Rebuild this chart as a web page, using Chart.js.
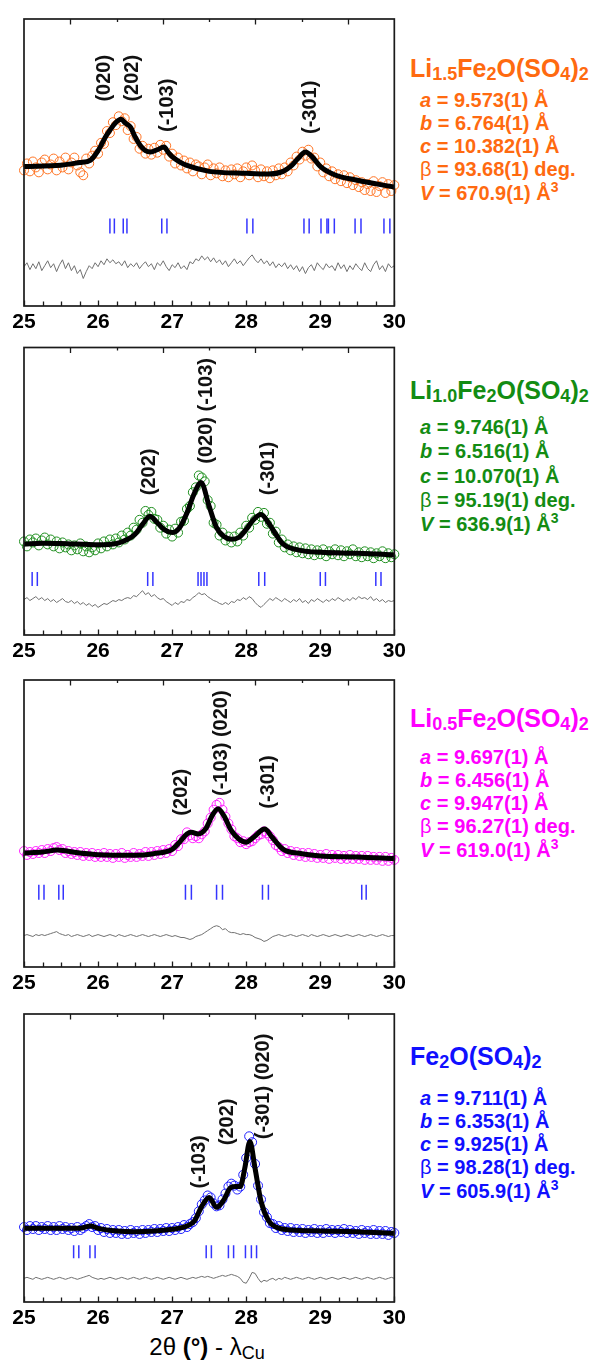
<!DOCTYPE html>
<html>
<head>
<meta charset="utf-8">
<title>Rietveld fits 25-30 deg</title>
<script src="https://cdn.jsdelivr.net/npm/chart.js@4.4.1/dist/chart.umd.min.js"></script>
<style>
  body { margin: 0; background: #fff; }
  #page { position: relative; width: 597px; height: 1362px; overflow: hidden; font-family: "Liberation Sans", Arial, sans-serif; }
  #page canvas { position: absolute; left: 0; }
  .phase { position: absolute; left: 410px; font-size: 25px; line-height: 30px; font-weight: bold; white-space: nowrap; }
  .phase sub { font-size: 18px; line-height: 0; vertical-align: -3px; }
  .params { position: absolute; left: 420px; font-size: 20px; font-weight: bold; white-space: nowrap; }
  .params sup { font-size: 14px; line-height: 0; vertical-align: 8px; }
  .params .beta { font-weight: normal; }
  #xtitle { position: absolute; left: 0; width: 414px; top: 1333px; text-align: center; font-size: 24px; line-height: 28px; }
  #xtitle sub { font-size: 18px; line-height: 0; vertical-align: -4px; }
</style>
</head>
<body>
<div id="page">
  <canvas id="c0" width="410" height="326"></canvas>
  <canvas id="c1" width="410" height="326"></canvas>
  <canvas id="c2" width="410" height="326"></canvas>
  <canvas id="c3" width="410" height="326"></canvas>
  <div id="xtitle">2θ <b>(°)</b> - λ<sub>Cu</sub></div>
</div>
<script>
// Scan grid (2theta, deg) and axis ticks
const scanStart = 25;
const scanStep = 0.04;
const xTickLabels = [25, 26, 27, 28, 29, 30];
const minorStep = 0.25;
const topTicks = [25.625, 26.25, 26.875, 27.5, 28.125, 28.75, 29.375];

// Li1.5Fe2O(SO4)2
const obs1 = [
  138,145,137,147,141,136,146,149,139,144,
  150,138,147,141,151,139,146,151,143,136,
  133,150,145,153,158,155,166,165,178,176,
  187,184,193,188,191,179,183,170,172,160,
  163,155,160,154,161,156,164,159,163,152,
  155,145,151,143,148,140,146,137,144,142,
  134,141,144,133,140,135,141,132,138,131,
  139,134,140,131,137,141,133,143,138,131,
  139,132,137,130,138,133,140,134,141,137,
  146,143,152,149,157,153,159,150,151,142,
  146,136,140,132,137,129,134,127,133,125,
  131,123,128,121,126,118,124,117,127,116,
  122,126,115,124,117,123];
const diff1 = [
  40,44,37,43,38,45,36,41,46,39,
  43,35,42,47,38,44,36,41,33,37,
  28,35,41,38,44,40,46,42,48,44,
  47,43,45,41,46,39,43,40,44,38,
  42,45,40,43,37,44,41,46,40,36,
  42,39,44,38,41,37,45,43,48,46,
  51,47,50,45,49,44,47,42,46,40,
  44,48,43,46,41,45,49,52,47,44,
  48,43,46,41,45,39,43,40,44,38,
  42,37,41,35,40,33,39,42,36,44,
  40,37,43,39,41,36,44,38,42,35,
  41,37,43,39,36,44,38,35,42,46,
  37,41,35,43,39,41];
const calcX1 = [25.0,25.5,25.75,25.9,26.0,26.1,26.17,26.23,26.31,26.37,26.44,26.5,26.57,26.64,26.71,26.8,26.89,26.95,27.0,27.1,27.2,27.5,28.0,28.3,28.5,28.6,28.7,28.8,28.9,29.0,29.2,29.5,30.0];
const calcY1 = [142,143.3,146,148.5,158,172,180,186,190,186,181.7,172,163.3,158,156.7,159,161.7,156,152,146.7,143,137,135,134.3,137,142,150,156.7,151,142,133.3,128,121];
const bragg1 = [26.16,26.22,26.34,26.39,26.86,26.93,28.01,28.09,28.78,28.85,29.01,29.09,29.11,29.19,29.47,29.55,29.86,29.94];
const peakText1 = ['(020)', '(202)', '(-103)', '(-301)'];
const peakX1 = [26.08, 26.47, 26.94, 28.87];
const peakY1 = [208, 208, 177, 175];

// Li1.0Fe2O(SO4)2
const obs2 = [
  95,90,97,94,98,91,96,99,92,97,
  90,95,88,94,89,92,86,91,87,93,
  85,90,84,89,86,93,88,95,90,97,
  92,98,94,101,97,104,101,109,107,117,
  114,126,122,125,118,117,109,111,103,107,
  100,108,104,115,116,128,131,145,150,162,
  160,156,137,131,114,112,101,104,96,100,
  94,100,95,104,101,111,109,119,117,125,
  120,124,113,114,103,105,94,97,89,92,
  86,90,84,89,83,88,82,87,81,86,
  82,87,80,85,82,87,81,86,80,85,
  82,87,80,84,79,85,80,84,78,83,
  80,85,78,83,79,82];
const diff2 = [
  36,38,35,37,39,36,38,35,37,34,
  36,33,35,37,34,33,35,32,34,31,
  33,30,32,29,31,28,30,32,31,33,
  35,34,36,35,37,38,37,40,39,42,
  45,41,43,39,41,38,36,37,34,32,
  30,33,31,34,33,36,35,38,40,43,
  41,42,39,37,35,34,32,31,33,31,
  34,33,36,35,38,36,39,37,33,30,
  28,31,34,37,35,38,36,34,37,35,
  33,36,34,37,33,35,32,36,34,37,
  35,33,36,34,37,35,38,36,34,37,
  35,38,36,39,37,38,36,39,35,37,
  34,36,33,35,34,35];
const calcX2 = [25.0,25.25,25.5,26.0,26.25,26.4,26.5,26.6,26.7,26.8,26.9,27.0,27.1,27.2,27.3,27.39,27.5,27.6,27.7,27.8,27.9,28.0,28.1,28.2,28.3,28.4,28.5,28.75,29.0,29.5,30.0];
const calcY2 = [92.3,93.3,93,91.7,93,97.3,102.3,112.3,120.7,114,106.7,104,109,124,144,155,130.7,109,100,97.3,99,107.3,117.3,122.3,114,102.3,92.3,85.7,84,83,81.3];
const bragg2 = [25.11,25.18,26.67,26.74,27.35,27.39,27.43,27.47,28.17,28.25,29.00,29.07,29.75,29.82];
const peakText2 = ['(202)', '(020) (-103)', '(-301)'];
const peakX2 = [26.70, 27.46, 28.30];
const peakY2 = [142, 174, 142];

// Li0.5Fe2O(SO4)2
const obs3 = [
  118,114,117,115,118,116,119,116,120,118,
  121,122,119,120,116,118,115,117,114,117,
  113,116,113,116,112,115,112,116,112,115,
  111,115,112,116,111,114,112,116,112,115,
  113,117,113,117,114,118,115,119,116,120,
  118,124,123,130,130,137,134,131,133,131,
  135,138,146,152,160,165,167,160,153,146,
  140,133,131,127,128,125,127,128,131,134,
  135,138,136,133,129,124,122,118,120,116,
  118,114,117,113,116,112,116,112,115,111,
  114,111,115,110,114,111,114,110,113,110,
  114,110,113,110,113,109,113,109,112,109,
  112,108,112,108,111,109];
const diff3 = [
  32,33,32,31,33,32,33,32,33,34,
  35,36,34,33,32,33,31,32,33,32,
  31,32,33,31,32,33,32,31,32,33,
  32,31,33,32,31,32,33,32,31,32,
  33,32,31,32,33,32,31,32,33,32,
  31,32,31,30,30,29,28,29,31,32,
  33,35,37,39,41,42,41,38,39,36,
  35,35,34,33,34,33,33,32,30,29,
  28,26,27,29,31,32,33,32,31,32,
  33,32,31,32,33,32,31,33,32,31,
  32,33,32,31,32,33,32,31,32,33,
  32,31,32,33,32,31,32,33,32,31,
  32,33,32,31,32,32];
const calcX3 = [25.0,25.25,25.45,25.75,26.0,26.5,26.75,27.0,27.1,27.2,27.26,27.35,27.45,27.55,27.62,27.7,27.8,27.9,28.0,28.1,28.25,28.35,28.5,28.75,29.0,29.5,30.0];
const calcY3 = [116,117,119,116,114.3,113.7,115.3,119.7,127,135.3,137,135.3,140.3,155.3,161,153.7,138.7,130.3,127,132,140.3,132,119.7,115.3,113,112,110.3];
const bragg3 = [25.20,25.27,25.47,25.53,27.18,27.26,27.60,27.68,28.22,28.30,29.56,29.62];
const peakText3 = ['(202)', '(-103) (020)', '(-301)'];
const peakX3 = [27.13, 27.67, 28.30];
const peakY3 = [154, 174, 161];

// Fe2O(SO4)2
const obs4 = [
  76,73,77,74,77,73,76,74,77,73,
  76,73,77,74,76,73,75,72,76,73,
  75,77,79,76,77,73,75,71,74,70,
  73,70,73,69,72,69,73,70,72,69,
  73,70,73,71,74,71,74,72,75,72,
  75,73,76,74,78,76,79,81,85,92,
  99,103,108,106,100,97,98,104,110,117,
  120,118,114,117,129,146,168,162,140,118,
  104,91,86,80,79,75,77,73,75,72,
  75,71,74,71,74,70,73,71,74,70,
  73,70,74,71,73,70,73,71,74,70,
  73,70,72,69,73,70,72,69,73,69,
  72,69,72,68,71,70];
const diff4 = [
  24,25,24,23,25,24,23,24,25,24,
  23,24,25,24,23,24,25,24,23,24,
  25,26,27,25,24,23,24,23,24,25,
  24,23,24,25,24,23,24,25,24,23,
  24,25,24,23,24,25,24,23,24,25,
  24,23,24,25,24,23,24,25,24,25,
  26,25,26,25,24,25,26,27,26,27,
  28,27,26,24,20,19,24,30,29,24,
  20,22,21,23,24,22,24,23,25,24,
  23,24,25,24,23,24,25,24,23,24,
  25,24,23,24,25,24,23,24,25,24,
  23,24,25,24,23,24,25,24,23,24,
  25,24,23,24,25,24];
const calcX4 = [25.0,25.5,25.75,25.9,26.0,26.25,26.5,27.0,27.2,27.3,27.4,27.5,27.6,27.7,27.78,27.85,27.92,27.98,28.05,28.12,28.2,28.3,28.4,28.6,29.0,29.5,30.0];
const calcY4 = [74.7,74.7,74.7,77,74.7,72,71.3,73.7,77,82,97,106,96,103.7,115.3,117,117,135.3,162.7,135.3,102,82.7,76,73,72,71.3,69.7];
const bragg4 = [25.67,25.74,25.89,25.96,27.46,27.53,27.76,27.83,27.99,28.07,28.14];
const peakText4 = ['(-103)', '(202)', '(-301) (020)'];
const peakX4 = [27.37, 27.75, 28.24];
const peakY4 = [115, 159, 165];

// Cell parameters
const phaseNames = [
  'Li<sub>1.5</sub>Fe<sub>2</sub>O(SO<sub>4</sub>)<sub>2</sub>',
  'Li<sub>1.0</sub>Fe<sub>2</sub>O(SO<sub>4</sub>)<sub>2</sub>',
  'Li<sub>0.5</sub>Fe<sub>2</sub>O(SO<sub>4</sub>)<sub>2</sub>',
  'Fe<sub>2</sub>O(SO<sub>4</sub>)<sub>2</sub>'
];
const cellA = ['9.573(1)', '9.746(1)', '9.697(1)', '9.711(1)'];
const cellB = ['6.764(1)', '6.516(1)', '6.456(1)', '6.353(1)'];
const cellC = ['10.382(1)', '10.070(1)', '9.947(1)', '9.925(1)'];
const cellBeta = ['93.68(1)', '95.19(1)', '96.27(1)', '98.28(1)'];
const cellV = ['670.9(1)', '636.9(1)', '619.0(1)', '605.9(1)'];

// Layout / style (not data)
const boxTop = [14, 343, 675, 1010];
const yMax = 292;
const braggRow = [81.5, 57, 76, 51];
const braggHalf = [7.5, 7, 7.5, 6.5];
const titleTop = [53, 374.5, 703, 1040.5];
const paramTop = [88.8, 415, 745.5, 1086.5];
const paramLine = [23.2, 24.3, 23.3, 23.3];
const colors = ['#ff6a10', '#138c13', '#ff00ff', '#1010ff'];
const markerColors = ['#ff7424', '#1f8f1f', '#ff22ff', '#2020ff'];
const braggColor = '#3535ff';
const font = '"Liberation Sans", Arial, sans-serif';

const panels = [
  { obs: obs1, diff: diff1, calcX: calcX1, calcY: calcY1, bragg: bragg1, text: peakText1, px: peakX1, py: peakY1 },
  { obs: obs2, diff: diff2, calcX: calcX2, calcY: calcY2, bragg: bragg2, text: peakText2, px: peakX2, py: peakY2 },
  { obs: obs3, diff: diff3, calcX: calcX3, calcY: calcY3, bragg: bragg3, text: peakText3, px: peakX3, py: peakY3 },
  { obs: obs4, diff: diff4, calcX: calcX4, calcY: calcY4, bragg: bragg4, text: peakText4, px: peakX4, py: peakY4 }
];

const twoTheta = obs1.map((_, i) => Math.round((scanStart + i * scanStep) * 100) / 100);
const xMin = xTickLabels[0];
const xMax = xTickLabels[xTickLabels.length - 1];

// Frame + inward ticks
const frameTicks = {
  id: 'frameTicks',
  afterDraw(chart) {
    const { ctx, chartArea: a } = chart;
    const x = chart.scales.x;
    ctx.save();
    ctx.strokeStyle = '#1a1a1a';
    ctx.lineWidth = 1.3;
    ctx.beginPath();
    for (let v = xMin; v <= xMax + 1e-6; v += minorStep) {
      const px = Math.round(x.getPixelForValue(v)) + 0.5;
      const len = Math.abs(v - Math.round(v)) < 1e-6 ? 5.5 : 4.5;
      ctx.moveTo(px, a.bottom);
      ctx.lineTo(px, a.bottom - len);
    }
    topTicks.forEach((v, i) => {
      const px = Math.round(x.getPixelForValue(v)) + 0.5;
      const len = i % 2 === 0 ? 5.5 : 3;
      ctx.moveTo(px, a.top);
      ctx.lineTo(px, a.top + len);
    });
    ctx.stroke();
    ctx.lineWidth = 1.7;
    ctx.strokeRect(a.left, a.top, a.right - a.left, a.bottom - a.top);
    ctx.restore();
  }
};

// Rotated hkl labels
function peakLabels(p) {
  return {
    id: 'peakLabels',
    afterDatasetsDraw(chart) {
      const { ctx } = chart;
      const { x, y } = chart.scales;
      ctx.save();
      ctx.fillStyle = '#111';
      ctx.font = 'bold 20px ' + font;
      ctx.textAlign = 'left';
      ctx.textBaseline = 'middle';
      p.text.forEach((t, i) => {
        ctx.save();
        ctx.translate(x.getPixelForValue(p.px[i]), y.getPixelForValue(p.py[i]));
        ctx.rotate(-Math.PI / 2);
        ctx.fillText(t, 0, 0);
        ctx.restore();
      });
      ctx.restore();
    }
  };
}

function makePanel(p, k) {
  const canvas = document.getElementById('c' + k);
  canvas.style.top = (boxTop[k] - 4) + 'px';

  new Chart(canvas, {
    type: 'scatter',
    data: {
      datasets: [
        {
          label: 'calc',
          data: p.calcX.map((x, i) => ({ x, y: p.calcY[i] })),
          showLine: true,
          borderColor: '#000',
          borderWidth: 5,
          pointRadius: 0,
          cubicInterpolationMode: 'monotone',
          borderJoinStyle: 'round',
          borderCapStyle: 'round',
          order: 0
        },
        {
          label: 'obs',
          data: twoTheta.map((x, i) => ({ x, y: p.obs[i] })),
          pointStyle: 'circle',
          pointRadius: 4.5,
          pointBorderWidth: 1,
          pointBorderColor: markerColors[k],
          pointBackgroundColor: 'rgba(0,0,0,0)',
          clip: false,
          order: 1
        },
        {
          label: 'Bragg',
          data: p.bragg.map(x => ({ x, y: braggRow[k] })),
          pointStyle: 'line',
          pointRotation: 90,
          pointRadius: braggHalf[k],
          pointBorderWidth: 1.5,
          pointBorderColor: braggColor,
          order: 2
        },
        {
          label: 'diff',
          data: twoTheta.map((x, i) => ({ x, y: p.diff[i] })),
          showLine: true,
          borderColor: '#707070',
          borderWidth: 1,
          pointRadius: 0,
          order: 3
        }
      ]
    },
    options: {
      responsive: false,
      animation: false,
      events: [],
      layout: { padding: { left: 24, right: 11, top: 4, bottom: 0 } },
      plugins: { legend: { display: false }, tooltip: { enabled: false } },
      scales: {
        x: {
          type: 'linear',
          position: 'bottom',
          min: xMin,
          max: xMax,
          afterBuildTicks: s => { s.ticks = xTickLabels.map(v => ({ value: v })); },
          ticks: {
            color: '#000',
            padding: 4,
            maxRotation: 0,
            autoSkip: false,
            font: { family: font, size: 21, weight: 'bold' }
          },
          grid: { display: false, drawTicks: false },
          border: { display: false },
          afterFit: s => { s.height = 30; }
        },
        y: { display: false, min: 0, max: yMax }
      }
    },
    plugins: [frameTicks, peakLabels(p)]
  });

  // phase name + cell parameters
  const page = document.getElementById('page');
  const title = document.createElement('div');
  title.className = 'phase';
  title.style.top = titleTop[k] + 'px';
  title.style.color = colors[k];
  title.innerHTML = phaseNames[k];
  page.append(title);

  const params = document.createElement('div');
  params.className = 'params';
  params.style.top = paramTop[k] + 'px';
  params.style.lineHeight = paramLine[k] + 'px';
  params.style.color = colors[k];
  params.innerHTML =
    `<i>a</i> = ${cellA[k]} Å<br>` +
    `<i>b</i> = ${cellB[k]} Å<br>` +
    `<i>c</i> = ${cellC[k]} Å<br>` +
    `<span class="beta">β</span> = ${cellBeta[k]} deg.<br>` +
    `<i>V</i> = ${cellV[k]} Å<sup>3</sup>`;
  page.append(params);
}

panels.forEach(makePanel);
</script>
</body>
</html>
